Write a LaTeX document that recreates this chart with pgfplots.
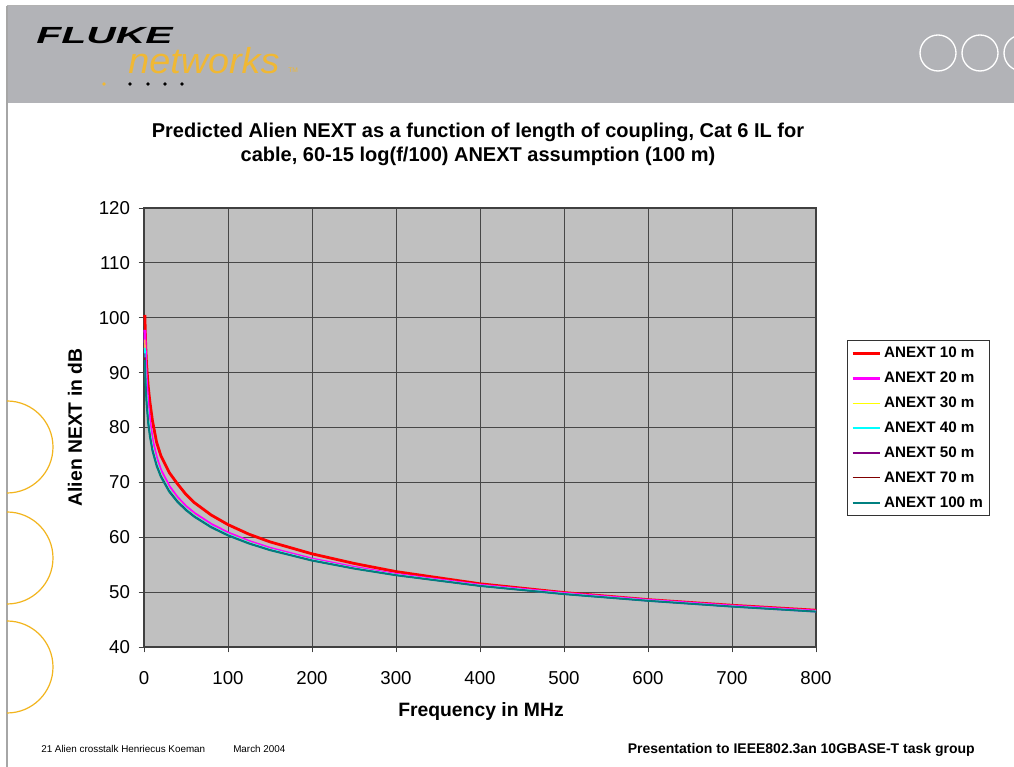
\documentclass[border=0pt]{standalone}
\usepackage{pgfplots}
\pgfplotsset{compat=1.18}
\usetikzlibrary{backgrounds}
\usepackage{fontspec}
\setmainfont{Liberation Sans}

\definecolor{band}{HTML}{B2B3B7}
\definecolor{plotbg}{HTML}{C0C0C0}
\definecolor{fgold}{HTML}{F0B834}
\definecolor{ringgold}{HTML}{F2B51E}
\definecolor{c10}{HTML}{FF0000}
\definecolor{c20}{HTML}{FF00FF}
\definecolor{c30}{HTML}{FFFF00}
\definecolor{c40}{HTML}{00FFFF}
\definecolor{c50}{HTML}{800080}
\definecolor{c70}{HTML}{800000}
\definecolor{c100}{HTML}{008080}

% frequency in MHz, Alien NEXT in dB, one column per coupling length
\pgfplotstableread{
f    L10    L20    L30    L40    L50    L70    L100
1    100.5  97.8   96.0   94.5   93.5   92.8   92.3
2    95.0   91.5   89.8   88.8   88.1   87.6   87.2
3    91.6   88.0   86.4   85.6   85.0   84.6   84.3
5    87.5   83.7   82.3   81.7   81.2   80.9   80.6
7    84.7   80.9   79.7   79.2   78.8   78.5   78.3
10   81.3   77.6   76.8   76.4   76.1   75.9   75.7
15   77.3   74.4   73.8   73.5   73.26  73.1   72.95
20   74.9   72.2   71.7   71.43  71.28  71.15  71.0
30   71.8   69.25  68.85  68.64  68.49  68.39  68.27
40   69.7   67.2   66.87  66.67  66.57  66.47  66.37
50   67.8   65.6   65.32  65.17  65.07  64.99  64.9
60   66.3   64.35  64.08  63.93  63.83  63.77  63.7
80   64.05  62.35  62.1   62.0   61.9   61.84  61.78
100  62.3   60.8   60.6   60.5   60.4   60.35  60.3
125  60.55  59.25  59.1   59.0   58.92  58.87  58.83
150  59.16  58.0   57.86  57.78  57.71  57.67  57.63
200  56.98  56.03  55.93  55.86  55.8   55.76  55.73
250  55.23  54.53  54.43  54.38  54.33  54.3   54.27
300  53.74  53.24  53.19  53.15  53.1   53.08  53.06
400  51.52  51.27  51.22  51.19  51.15  51.13  51.11
500  49.92  49.77  49.72  49.7   49.66  49.64  49.62
600  48.63  48.53  48.48  48.46  48.43  48.42  48.4
700  47.6   47.47  47.42  47.4   47.38  47.37  47.35
800  46.7   46.55  46.5   46.48  46.47  46.46  46.43
}\anext

\begin{document}
\begin{tikzpicture}[x=0.75pt,y=0.75pt]
\begin{axis}[
  scale only axis, width=504pt, height=329.25pt,
  xmin=0, xmax=800, ymin=40, ymax=120,
  xtick={0,100,...,800}, ytick={40,50,...,120},
  xtick pos=bottom, ytick pos=left,
  axis background/.style={fill=plotbg},
  grid=major, major grid style={black!72,line width=0.6pt},
  axis line style={black!75,line width=0.8pt},
  tick align=outside, major tick length=4pt,
  tick style={black!75,line width=0.6pt},
  ticklabel style={font=\fontsize{14}{14}\selectfont},
  xticklabel style={yshift=-11pt},
  yticklabel style={xshift=-3pt},
  /pgf/number format/assume math mode=true,
  xlabel={Frequency in MHz}, ylabel={Alien NEXT in dB},
  label style={font=\fontsize{14.5}{14.5}\selectfont\bfseries},
  xlabel style={at={(axis description cs:0.5015,-0.148)}, anchor=center},
  ylabel style={at={(axis description cs:-0.1027,0.5)}, anchor=center},
  clip=false,
  legend style={at={(1.046,0.699)}, anchor=north west, draw=black!80, line width=0.6pt,
    font=\fontsize{11.4}{11.4}\selectfont\bfseries, row sep=5.2pt, inner sep=3pt},
  legend cell align=left,
  legend image post style={xscale=1.2},
  no markers,
]
\coordinate (O) at (rel axis cs:0,0);
\addplot[c10, line width=2.1pt] table[x=f,y=L10] {\anext};
\addlegendentry{ANEXT 10 m}
\addplot[c20, line width=2.1pt] table[x=f,y=L20] {\anext};
\addlegendentry{ANEXT 20 m}
\addplot[c30, line width=0.8pt] table[x=f,y=L30] {\anext};
\addlegendentry{ANEXT 30 m}
\addplot[c40, line width=1.3pt] table[x=f,y=L40] {\anext};
\addlegendentry{ANEXT 40 m}
\addplot[c50, line width=0.8pt] table[x=f,y=L50] {\anext};
\addlegendentry{ANEXT 50 m}
\addplot[c70, line width=0.8pt] table[x=f,y=L70] {\anext};
\addlegendentry{ANEXT 70 m}
\addplot[c100, line width=1.3pt] table[x=f,y=L100] {\anext};
\addlegendentry{ANEXT 100 m}
\end{axis}

% slide around the chart: 1014 x 767 px, axis corner at (144,120) measured from the bottom left
\begin{scope}[shift={(O)}, shift={(-144,-120)}]
\useasboundingbox (0,0) rectangle (1014,767);
\begin{scope}[on background layer]
\fill[white] (0,0) rectangle (1014,767);
\fill[band] (7,664) rectangle (1014,761);
\end{scope}
\draw[gray!60,line width=0.8pt] (7,761.5) -- (1014,761.5);
\draw[gray!70,line width=0.8pt] (7,0) -- (7,761);
% logo
\node[anchor=base west,inner sep=0pt,xscale=1.75,font=\fontsize{17.5}{17.5}\selectfont\bfseries\itshape] at (36,723) {FLUKE};
\node[anchor=base west,inner sep=0pt,xscale=1.05,text=fgold,font=\fontsize{27}{27}\selectfont\itshape] at (128,693) {networks};
\node[anchor=base west,inner sep=0pt,text=fgold,font=\fontsize{5}{5}\selectfont] at (288,694) {TM};
\fill[fgold] (104,683) circle (1.8);
\foreach \xx in {130,148,165,182} \fill[black] (\xx,683) circle (1.8);
% circles on the right
\foreach \xx in {938,980,1022} \draw[white,line width=1pt] (\xx,714) circle (18);
% half rings on the left
\foreach \yy in {320,209,100} \draw[ringgold,line width=0.9pt] (7,\yy+46) arc[start angle=90,end angle=-90,radius=46];
% title
\node[align=center,font=\fontsize{15}{18}\selectfont\bfseries] at (478,623) {Predicted Alien NEXT as a function of length of coupling, Cat 6 IL for\\cable, 60-15 log(f/100) ANEXT assumption (100 m)};
% footer
\node[anchor=base west,inner sep=0pt,font=\fontsize{7.4}{8}\selectfont] at (41,14) {21 Alien crosstalk Henriecus Koeman};
\node[anchor=base west,inner sep=0pt,font=\fontsize{7.4}{8}\selectfont] at (233,14) {March 2004};
\node[anchor=base east,inner sep=0pt,font=\fontsize{10.5}{11}\selectfont\bfseries] at (975,13) {Presentation to IEEE802.3an 10GBASE-T task group};
\end{scope}
\end{tikzpicture}
\end{document}
